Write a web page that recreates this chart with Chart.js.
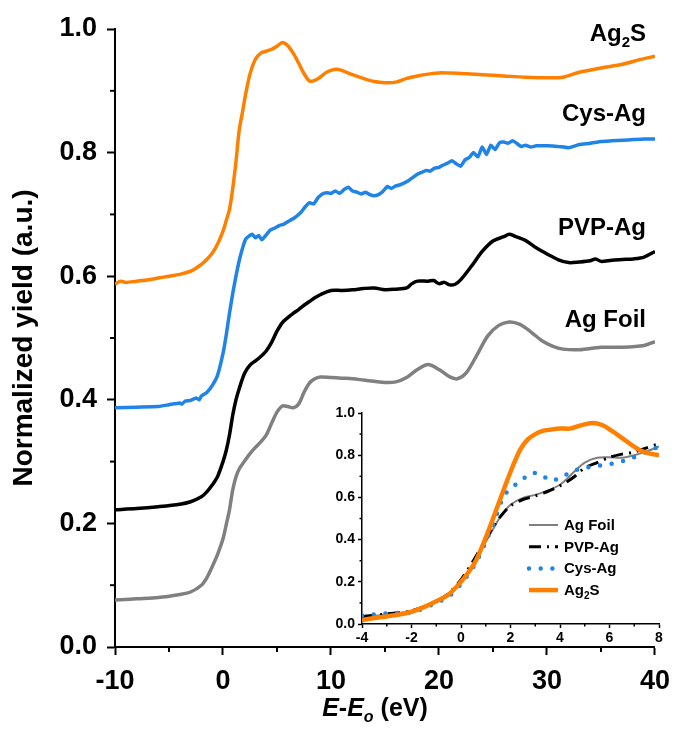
<!DOCTYPE html>
<html>
<head>
<meta charset="utf-8">
<script src="https://cdn.jsdelivr.net/npm/chart.js@4.4.0/dist/chart.umd.min.js"></script>
<style>
  html, body { margin: 0; padding: 0; background: #fff; }
  #wrap { position: relative; width: 680px; height: 734px; }
  #main { position: absolute; left: 0; top: 0; }
  #inset { position: absolute; left: 300px; top: 395px; }
</style>
</head>
<body>
<div id="wrap">
  <canvas id="main" width="680" height="734"></canvas>
  <canvas id="inset" width="370" height="260"></canvas>
</div>
<script>
// ---------- Main panel: offset XANES spectra, E - E0 in eV ----------
const foilE = [-10, -8, -6, -4, -3, -2, -1.5, -1, -0.5, 0, 0.3, 0.6, 0.9, 1.2, 1.5, 2, 2.5, 3, 3.5, 4, 4.5, 5, 5.5, 6, 6.5, 7, 7.5, 8, 8.5, 9, 10, 11, 12, 13, 14, 15, 16, 17, 18, 19, 20, 21, 21.7, 22.5, 23.5, 24.5, 25.5, 26.5, 27.5, 28.5, 29.5, 30.5, 31.5, 33, 35, 37, 39, 40];
const foilY = [0.076, 0.078, 0.080, 0.085, 0.089, 0.100, 0.112, 0.130, 0.150, 0.175, 0.198, 0.222, 0.254, 0.275, 0.288, 0.301, 0.313, 0.323, 0.332, 0.343, 0.362, 0.380, 0.390, 0.389, 0.387, 0.393, 0.412, 0.427, 0.434, 0.437, 0.436, 0.435, 0.434, 0.432, 0.430, 0.428, 0.429, 0.436, 0.449, 0.457, 0.449, 0.437, 0.434, 0.443, 0.472, 0.503, 0.520, 0.526, 0.522, 0.510, 0.496, 0.487, 0.482, 0.481, 0.485, 0.485, 0.488, 0.494];

const pvpE = [-10, -8, -6, -4, -3, -2, -1.5, -1, -0.5, 0, 0.3, 0.6, 0.9, 1.2, 1.5, 2, 2.5, 3, 3.5, 4, 4.5, 5, 5.5, 6, 6.5, 7, 7.5, 8, 8.5, 9, 10, 11, 12, 13, 14, 15, 16, 17, 17.5, 18, 19, 19.5, 20, 20.5, 21, 21.5, 22, 23, 24, 25, 26, 26.5, 27, 28, 29, 30, 31, 32, 33, 34, 34.5, 35, 36, 37, 38, 39, 40];
const pvpY = [0.222, 0.224, 0.227, 0.231, 0.235, 0.243, 0.251, 0.262, 0.276, 0.300, 0.318, 0.343, 0.375, 0.400, 0.418, 0.443, 0.456, 0.463, 0.470, 0.479, 0.493, 0.511, 0.525, 0.533, 0.540, 0.546, 0.553, 0.559, 0.565, 0.570, 0.577, 0.577, 0.578, 0.580, 0.581, 0.578, 0.579, 0.581, 0.588, 0.592, 0.592, 0.593, 0.588, 0.590, 0.586, 0.587, 0.594, 0.616, 0.640, 0.657, 0.664, 0.668, 0.665, 0.658, 0.646, 0.636, 0.627, 0.622, 0.623, 0.625, 0.628, 0.624, 0.626, 0.627, 0.628, 0.631, 0.640];

const cysE = [-10, -8, -6, -5, -4, -3.8, -3.5, -3, -2.5, -2.2, -2, -1.5, -1, -0.5, 0, 0.3, 0.6, 0.9, 1.2, 1.5, 1.8, 2.1, 2.4, 2.7, 3.0, 3.3, 3.6, 4.0, 4.4, 4.8, 5.2, 5.6, 6.0, 6.4, 6.8, 7.2, 7.6, 8.0, 8.4, 8.8, 9.2, 9.6, 10, 10.4, 10.8, 11.2, 11.6, 12, 12.4, 12.8, 13.2, 13.6, 14, 14.4, 14.8, 15.2, 15.6, 16, 16.4, 16.8, 17.2, 17.6, 18, 18.4, 18.8, 19.2, 19.6, 20, 20.4, 20.8, 21.2, 21.6, 22, 22.4, 22.8, 23.2, 23.6, 24, 24.4, 24.8, 25.2, 25.6, 26, 26.4, 26.8, 27.2, 27.6, 28, 28.5, 29, 30, 31, 32, 33, 34, 35, 36, 37, 38, 39, 40];
const cysY = [0.387, 0.388, 0.389, 0.392, 0.395, 0.393, 0.398, 0.399, 0.403, 0.400, 0.406, 0.412, 0.423, 0.440, 0.475, 0.505, 0.540, 0.572, 0.600, 0.625, 0.645, 0.660, 0.665, 0.668, 0.662, 0.666, 0.659, 0.667, 0.675, 0.678, 0.682, 0.684, 0.688, 0.692, 0.697, 0.703, 0.712, 0.719, 0.717, 0.727, 0.733, 0.735, 0.734, 0.738, 0.734, 0.740, 0.744, 0.738, 0.736, 0.733, 0.736, 0.732, 0.730, 0.732, 0.737, 0.745, 0.742, 0.746, 0.748, 0.751, 0.755, 0.760, 0.765, 0.768, 0.771, 0.770, 0.775, 0.776, 0.780, 0.783, 0.787, 0.782, 0.778, 0.788, 0.792, 0.800, 0.793, 0.809, 0.797, 0.812, 0.805, 0.816, 0.817, 0.815, 0.819, 0.815, 0.810, 0.812, 0.809, 0.811, 0.811, 0.810, 0.808, 0.813, 0.815, 0.818, 0.819, 0.820, 0.821, 0.822, 0.822];

const ag2sE = [-10, -9.5, -9, -8, -7, -6, -5, -4, -3, -2.5, -2, -1.5, -1, -0.5, 0, 0.3, 0.6, 0.9, 1.2, 1.5, 1.8, 2.1, 2.5, 3, 3.5, 4, 4.5, 5, 5.5, 6, 6.5, 7, 7.5, 8, 8.5, 9, 9.5, 10, 10.5, 11, 12, 13, 14, 15, 16, 17, 18, 19, 20, 22, 24, 26, 28, 30, 31.5, 33, 35, 37, 38.5, 40];
const ag2sY = [0.587, 0.592, 0.590, 0.592, 0.594, 0.597, 0.600, 0.603, 0.608, 0.613, 0.619, 0.627, 0.637, 0.652, 0.673, 0.690, 0.708, 0.742, 0.785, 0.836, 0.865, 0.895, 0.927, 0.951, 0.961, 0.964, 0.967, 0.972, 0.978, 0.973, 0.961, 0.945, 0.928, 0.916, 0.917, 0.922, 0.929, 0.933, 0.935, 0.933, 0.926, 0.920, 0.915, 0.913, 0.914, 0.920, 0.924, 0.927, 0.929, 0.928, 0.926, 0.924, 0.922, 0.921, 0.922, 0.930, 0.937, 0.943, 0.950, 0.956];

// ---------- Inset: edge region overlaid ----------
const inFoilE = [-4, -3, -2, -1, -0.5, 0, 0.5, 1, 1.3, 1.6, 2, 2.5, 3, 3.5, 4, 4.3, 4.6, 5, 5.5, 6, 6.5, 7, 7.5, 8];
const inFoilY = [0.032, 0.045, 0.062, 0.105, 0.140, 0.200, 0.285, 0.390, 0.450, 0.510, 0.565, 0.598, 0.612, 0.632, 0.660, 0.690, 0.725, 0.765, 0.788, 0.790, 0.788, 0.800, 0.818, 0.842];
const inPvpE = [-4, -3, -2, -1, -0.5, 0, 0.5, 1, 1.3, 1.6, 2, 2.5, 3, 3.5, 4, 4.3, 4.6, 5, 5.5, 6, 6.5, 7, 7.5, 8];
const inPvpY = [0.035, 0.048, 0.063, 0.105, 0.145, 0.210, 0.300, 0.400, 0.460, 0.510, 0.560, 0.590, 0.607, 0.628, 0.655, 0.675, 0.700, 0.740, 0.765, 0.790, 0.805, 0.815, 0.835, 0.855];
const inCysE = [-4, -3.5, -3, -2.5, -2, -1.5, -1, -0.5, 0, 0.5, 0.75, 1, 1.3, 1.7, 2, 2.4, 2.8, 3.2, 3.6, 4, 4.5, 5, 5.4, 5.9, 6.3, 6.8, 7.2, 7.6, 8];
const inCysY = [0.040, 0.045, 0.050, 0.052, 0.055, 0.075, 0.100, 0.130, 0.190, 0.270, 0.324, 0.390, 0.470, 0.600, 0.643, 0.675, 0.713, 0.712, 0.680, 0.692, 0.724, 0.740, 0.747, 0.756, 0.764, 0.782, 0.800, 0.822, 0.840];
const inAg2sE = [-4, -3.5, -3, -2.5, -2, -1.5, -1, -0.5, 0, 0.3, 0.6, 0.9, 1.2, 1.5, 1.8, 2.1, 2.4, 2.7, 3, 3.3, 3.6, 4, 4.4, 4.8, 5.3, 5.7, 6.1, 6.5, 6.9, 7.3, 7.7, 8];
const inAg2sY = [0.019, 0.028, 0.036, 0.045, 0.058, 0.080, 0.108, 0.140, 0.200, 0.245, 0.300, 0.380, 0.470, 0.565, 0.660, 0.750, 0.828, 0.875, 0.900, 0.915, 0.921, 0.927, 0.926, 0.940, 0.953, 0.943, 0.915, 0.882, 0.848, 0.820, 0.806, 0.800];

// ---------- Tick values ----------
const mainXMinor = [-5, 5, 15, 25, 35];
const mainYMinor = [0.1, 0.3, 0.5, 0.7, 0.9];
const insetXMinor = [-3, -1, 1, 3, 5, 7];
const insetYMinor = [0.1, 0.3, 0.5, 0.7, 0.9];

const seriesNames = ['Ag Foil', 'PVP-Ag', 'Cys-Ag', 'Ag2S'];
const COLORS = { foil: '#808080', pvp: '#000000', cys: '#1f84e6', ag2s: '#ff8000' };
const FONT = '"Liberation Sans", Arial, sans-serif';

const pts = (xs, ys) => xs.map((x, i) => ({ x, y: ys[i] }));

// Text made of runs; a run flagged sub is drawn smaller and lowered.
function runs(label) {
  const m = label.match(/^(.*?)(\d)(.*)$/);
  if (label === 'Ag2S' && m) return [{ t: m[1] }, { t: m[2], sub: true }, { t: m[3] }];
  return [{ t: label }];
}
function drawRuns(ctx, parts, x, y, size, align) {
  const fontFor = p => `${p.italic ? 'italic ' : ''}bold ${p.sub ? Math.round(size * 0.64) : size}px ${FONT}`;
  let total = 0;
  parts.forEach(p => { ctx.font = fontFor(p); total += ctx.measureText(p.t).width; });
  let cx = align === 'right' ? x - total : align === 'center' ? x - total / 2 : x;
  ctx.textBaseline = 'alphabetic';
  ctx.textAlign = 'left';
  parts.forEach(p => {
    ctx.font = fontFor(p);
    ctx.fillText(p.t, cx, y + (p.sub ? size * 0.24 : 0));
    cx += ctx.measureText(p.t).width;
  });
}

// Short minor tick marks along the x and y axes
const minorTicks = {
  id: 'minorTicks',
  afterDraw(chart, args, o) {
    const { ctx } = chart;
    const xs = chart.scales.x, ys = chart.scales.y;
    ctx.save();
    ctx.strokeStyle = '#000';
    ctx.lineWidth = o.width;
    o.x.forEach(v => {
      const p = xs.getPixelForValue(v);
      ctx.beginPath(); ctx.moveTo(p, xs.top); ctx.lineTo(p, xs.top + o.len); ctx.stroke();
    });
    o.y.forEach(v => {
      const p = ys.getPixelForValue(v);
      ctx.beginPath(); ctx.moveTo(ys.right, p); ctx.lineTo(ys.right - o.len, p); ctx.stroke();
    });
    ctx.restore();
  }
};

// Series names beside the curves, plus the x-axis title with italic E and subscript
const mainText = {
  id: 'mainText',
  afterDraw(chart, args, o) {
    const { ctx } = chart;
    const xs = chart.scales.x, ys = chart.scales.y;
    ctx.save();
    ctx.fillStyle = '#000';
    o.labels.forEach(l => {
      drawRuns(ctx, runs(l.text), xs.getPixelForValue(l.x), ys.getPixelForValue(l.y), o.size, 'right');
    });
    drawRuns(ctx, [
      { t: 'E', italic: true }, { t: '-' }, { t: 'E', italic: true },
      { t: 'o', italic: true, sub: true }, { t: ' (eV)' }
    ], o.titleX, o.titleY, o.titleSize, 'center');
    ctx.restore();
  }
};

// Legend drawn inside the inset, using each dataset's own stroke style
const insetLegend = {
  id: 'insetLegend',
  afterDraw(chart, args, o) {
    const { ctx } = chart;
    chart.data.datasets.forEach((ds, i) => {
      const y = o.top + i * o.rowGap;
      ctx.save();
      ctx.strokeStyle = ds.borderColor;
      ctx.lineWidth = ds.borderWidth;
      ctx.setLineDash(ds.borderDash || []);
      ctx.lineCap = ds.borderCapStyle || 'butt';
      ctx.beginPath(); ctx.moveTo(o.left, y); ctx.lineTo(o.left + o.lineLen, y); ctx.stroke();
      ctx.restore();
      ctx.save();
      ctx.fillStyle = '#000';
      drawRuns(ctx, runs(ds.label), o.left + o.lineLen + o.gap, y + o.size * 0.33, o.size, 'left');
      ctx.restore();
    });
  }
};

function axis(opts) {
  return {
    type: 'linear',
    min: opts.min, max: opts.max,
    afterFit: s => { if (opts.w !== undefined) s.width = opts.w; if (opts.h !== undefined) s.height = opts.h; },
    ticks: {
      stepSize: opts.step,
      color: '#000',
      padding: opts.pad,
      font: { family: FONT, size: opts.size, weight: 'bold' },
      callback: opts.cb,
      autoSkip: false,
      maxRotation: 0
    },
    grid: { drawOnChartArea: false, drawTicks: true, tickLength: opts.tl, tickWidth: opts.lw, tickColor: '#000' },
    border: { display: true, color: '#000', width: opts.lw },
    title: opts.title || { display: false }
  };
}

const lineBase = { pointRadius: 0, pointHoverRadius: 0, fill: false, tension: 0.3 };

new Chart(document.getElementById('main'), {
  type: 'line',
  data: {
    datasets: [
      { ...lineBase, label: seriesNames[0], data: pts(foilE, foilY), borderColor: COLORS.foil, borderWidth: 3.5 },
      { ...lineBase, label: seriesNames[1], data: pts(pvpE, pvpY), borderColor: COLORS.pvp, borderWidth: 3.5 },
      { ...lineBase, label: seriesNames[2], data: pts(cysE, cysY), borderColor: COLORS.cys, borderWidth: 3.5, tension: 0.15 },
      { ...lineBase, label: seriesNames[3], data: pts(ag2sE, ag2sY), borderColor: COLORS.ag2s, borderWidth: 3.5 }
    ]
  },
  options: {
    responsive: false,
    animation: false,
    devicePixelRatio: 1,
    layout: { padding: { top: 29, right: 20, left: 0, bottom: 0 } },
    scales: {
      x: axis({ min: -10, max: 40, step: 10, size: 27, pad: 10, tl: 8, lw: 2, h: 87 }),
      y: axis({
        min: 0, max: 1, step: 0.2, size: 27, pad: 10, tl: 8, lw: 2, w: 115,
        cb: v => v.toFixed(1),
        title: {
          display: true, text: 'Normalized yield (a.u.)', color: '#000',
          font: { family: FONT, size: 28, weight: 'bold' }, padding: { top: 7, bottom: 0 }
        }
      })
    },
    plugins: {
      legend: { display: false },
      tooltip: { enabled: false },
      minorTicks: { x: mainXMinor, y: mainYMinor, len: 5, width: 2 },
      mainText: {
        size: 24,
        labels: [
          { text: seriesNames[3], x: 39.17, y: 0.980 },
          { text: seriesNames[2], x: 39.17, y: 0.851 },
          { text: seriesNames[1], x: 39.17, y: 0.666 },
          { text: seriesNames[0], x: 39.17, y: 0.517 }
        ],
        titleX: 375, titleY: 716, titleSize: 25
      }
    }
  },
  plugins: [minorTicks, mainText]
});

new Chart(document.getElementById('inset'), {
  type: 'line',
  data: {
    datasets: [
      { ...lineBase, label: seriesNames[0], data: pts(inFoilE, inFoilY), borderColor: COLORS.foil, borderWidth: 2, order: 3 },
      { ...lineBase, label: seriesNames[1], data: pts(inPvpE, inPvpY), borderColor: COLORS.pvp, borderWidth: 3, borderDash: [12, 6, 2, 6], order: 2 },
      { ...lineBase, label: seriesNames[2], data: pts(inCysE, inCysY), borderColor: COLORS.cys, borderWidth: 4.5, borderDash: [0, 11.7], borderCapStyle: 'round', order: 1 },
      { ...lineBase, label: seriesNames[3], data: pts(inAg2sE, inAg2sY), borderColor: COLORS.ag2s, borderWidth: 4.5, order: 0 }
    ]
  },
  options: {
    responsive: false,
    animation: false,
    devicePixelRatio: 1,
    layout: { padding: { top: 18, right: 11, left: 0, bottom: 0 } },
    scales: {
      x: axis({ min: -4, max: 8, step: 2, size: 14, pad: 2, tl: 4, lw: 1.5, h: 31 }),
      y: axis({ min: 0, max: 1, step: 0.2, size: 14, pad: 3, tl: 4, lw: 1.5, w: 62, cb: v => v.toFixed(1) })
    },
    plugins: {
      legend: { display: false },
      tooltip: { enabled: false },
      minorTicks: { x: insetXMinor, y: insetYMinor, len: 2.5, width: 1.5 },
      insetLegend: { left: 229, top: 130, rowGap: 21.7, lineLen: 29, gap: 6, size: 15 }
    }
  },
  plugins: [minorTicks, insetLegend]
});
</script>
</body>
</html>
